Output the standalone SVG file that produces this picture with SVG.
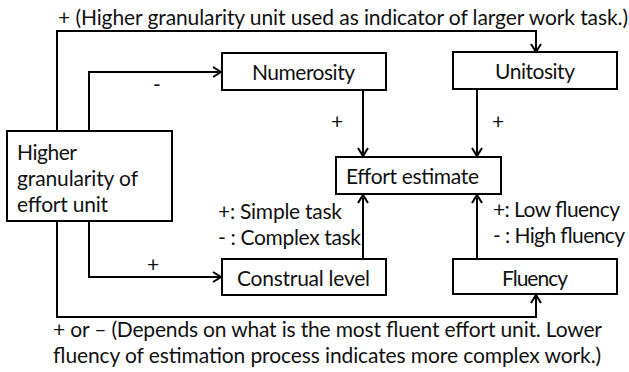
<svg xmlns="http://www.w3.org/2000/svg" width="629" height="372" viewBox="0 0 629 372">
<defs>
<marker id="arr" markerUnits="userSpaceOnUse" markerWidth="12" markerHeight="12" refX="10" refY="6" orient="auto">
<path d="M2,1 L10,6 L2,11" fill="none" stroke="#000" stroke-width="2"/>
</marker>
<style>
.box{fill:#fff;stroke:#000;stroke-width:2}
.t{font-family:Lato,"Liberation Sans",sans-serif;font-size:21px;fill:#111}
.c{text-anchor:middle}
.ln{fill:none;stroke:#000;stroke-width:2;marker-end:url(#arr)}
</style>
</defs>
<rect width="629" height="372" fill="#fff"/>
<g id="connectors">
<path class="ln" d="M57,131 V31 H536 V52"/>
<path class="ln" d="M89,131 V72 H221"/>
<path class="ln" d="M363,90 V156"/>
<path class="ln" d="M477,89 V156"/>
<path class="ln" d="M89,221 V277 H221"/>
<path class="ln" d="M57,221 V317 H536 V295"/>
<path class="ln" d="M363,259 V195"/>
<path class="ln" d="M477,259 V195"/>
</g>
<g id="labels">
<text class="t" x="58" y="25" textLength="570">+ (Higher granularity unit used as indicator of larger work task.)</text>
<text class="t c" x="157" y="92">-</text>
<text class="t c" x="337" y="129">+</text>
<text class="t c" x="498" y="129">+</text>
<text class="t c" x="153" y="272">+</text>
<text class="t" x="218" y="219" textLength="124">+: Simple task</text>
<text class="t" x="218" y="245" textLength="143">- : Complex task</text>
<text class="t" x="493" y="217" textLength="127">+: Low fluency</text>
<text class="t" x="493" y="243" textLength="132">- : High fluency</text>
<text class="t" x="53" y="337" textLength="549">+ or – (Depends on what is the most fluent effort unit. Lower</text>
<text class="t" x="53" y="363" textLength="548">fluency of estimation process indicates more complex work.)</text>
</g>
<g id="higher-granularity">
<rect class="box" x="7" y="131" width="165" height="90"/>
<text class="t" x="17" y="160" textLength="60">Higher</text>
<text class="t" x="17" y="186" textLength="121">granularity of</text>
<text class="t" x="17" y="212" textLength="91">effort unit</text>
</g>
<g id="numerosity">
<rect class="box" x="222" y="53" width="164" height="37"/>
<text class="t" x="252" y="80" textLength="103">Numerosity</text>
</g>
<g id="unitosity">
<rect class="box" x="453" y="52" width="164" height="37"/>
<text class="t" x="495" y="79" textLength="80">Unitosity</text>
</g>
<g id="effort-estimate">
<rect class="box" x="336" y="157" width="165" height="37"/>
<text class="t" x="346" y="184" textLength="133">Effort estimate</text>
</g>
<g id="construal-level">
<rect class="box" x="222" y="259" width="164" height="36"/>
<text class="t" x="237" y="286" textLength="133">Construal level</text>
</g>
<g id="fluency">
<rect class="box" x="453" y="259" width="164" height="35"/>
<text class="t" x="502" y="286" textLength="66">Fluency</text>
</g>
</svg>
